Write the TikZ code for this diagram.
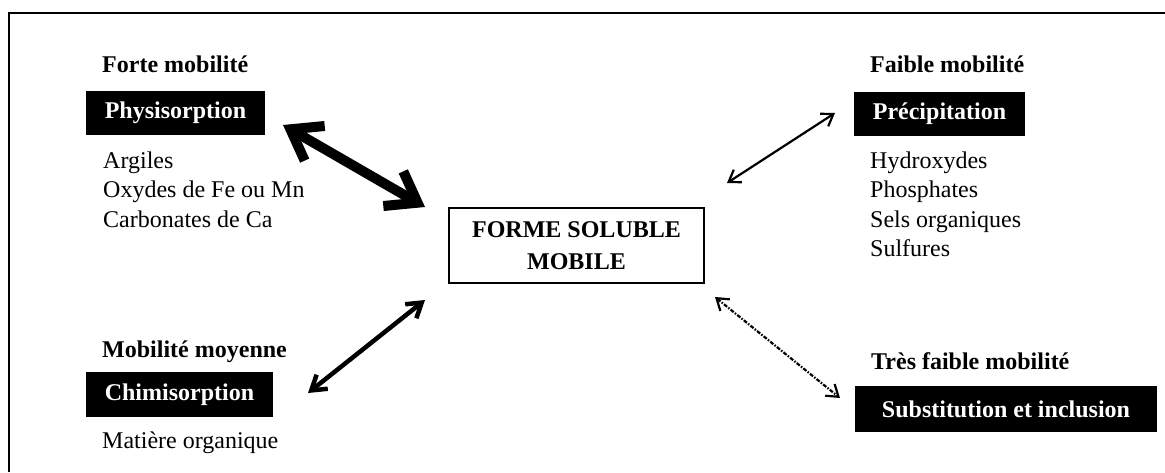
\documentclass[tikz,border=0pt]{standalone}
\usepackage{fontspec}
\setmainfont{Liberation Serif}
\usetikzlibrary{arrows.meta}
\begin{document}
\begin{tikzpicture}[x=1pt,y=-1pt,
  lbl/.style={font=\fontsize{24}{29.5}\selectfont\bfseries, anchor=base west, inner sep=0pt},
  lst/.style={font=\fontsize{24}{29.5}\selectfont, anchor=north west, inner sep=0pt, align=left},
  blackbox/.style={fill=black, text=white, font=\fontsize{24}{29}\selectfont\bfseries, inner sep=0pt},
  centerbox/.style={draw=black, line width=2pt, fill=white, font=\fontsize{24}{32}\selectfont\bfseries, align=center, inner sep=0pt, minimum width=255pt, minimum height=75pt},
  bigarrow/.style={line width=10pt, {Straight Barb[length=28pt,width=40pt]}-{Straight Barb[length=28pt,width=40pt]}},
  medarrow/.style={line width=4.5pt, {Straight Barb[length=14pt,width=18pt]}-{Straight Barb[length=14pt,width=18pt]}},
  thinarrow/.style={line width=2.2pt, {Straight Barb[length=11pt,width=15pt]}-{Straight Barb[length=11pt,width=15pt]}},
  dotarrow/.style={thinarrow, dash pattern=on 4pt off 1.5pt on 1.5pt off 1.5pt}
]
\useasboundingbox (0,0) rectangle (1165,472);
\draw[line width=2pt] (9,472) -- (9,13) -- (1165,13);

% center
\node[centerbox] (center) at (576.5,245.5) {FORME SOLUBLE\\MOBILE};

% top left
\node[lbl] (fortelbl) at (102,72) {Forte mobilité};
\node[blackbox, minimum width=179pt, minimum height=44pt] (phys) at (175.5,113) {Physisorption};
\node[lst] (physlist) at (103,151.6) {Argiles\\Oxydes de Fe ou Mn\\Carbonates de Ca};

% top right
\node[lbl] (faiblelbl) at (870,72) {Faible mobilité};
\node[blackbox, minimum width=171pt, minimum height=44pt] (prec) at (939.5,114) {Précipitation};
\node[lst] (preclist) at (870,151.6) {Hydroxydes\\Phosphates\\Sels organiques\\Sulfures};

% bottom left
\node[lbl] (moyennelbl) at (102,357) {Mobilité moyenne};
\node[blackbox, minimum width=187pt, minimum height=45pt] (chimi) at (179.5,394.5) {Chimisorption};
\node[font=\fontsize{24}{29.5}\selectfont, anchor=base west, inner sep=0pt] (chimilist) at (102,448) {Matière organique};

% bottom right
\node[lbl] (tresfaiblelbl) at (871,369) {Très faible mobilité};
\node[blackbox, minimum width=302pt, minimum height=46pt] (subst) at (1006,409) {Substitution et inclusion};

% arrow end points
\coordinate (a1) at (283,125);
\coordinate (a2) at (425,207);
\coordinate (b1) at (727,183);
\coordinate (b2) at (835,113);
\coordinate (c1) at (308,393);
\coordinate (c2) at (425,300);
\coordinate (d1) at (715,297);
\coordinate (d2) at (840,398);

\draw[bigarrow] (a1) -- (a2);
\draw[thinarrow] (b1) -- (b2);
\draw[medarrow] (c1) -- (c2);
\draw[dotarrow] (d1) -- (d2);
\end{tikzpicture}
\end{document}
